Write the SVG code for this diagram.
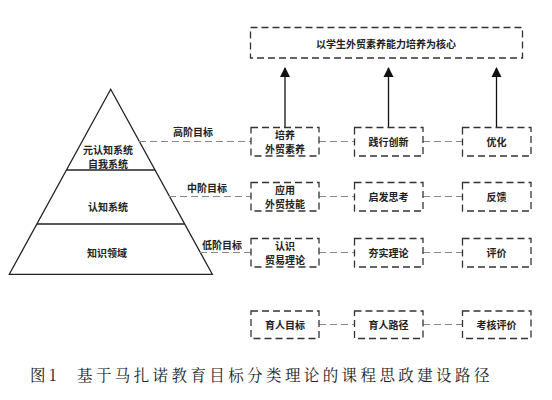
<svg xmlns="http://www.w3.org/2000/svg" width="552" height="400" viewBox="0 0 552 400">
<defs>
<style>
.t{font-family:"Noto Sans CJK SC","Liberation Sans",sans-serif;font-size:10px;font-weight:bold;fill:#222;text-anchor:middle;dominant-baseline:central}
.box{fill:none;stroke:#333;stroke-width:1.3;stroke-dasharray:7 4}
.con{fill:none;stroke:#888;stroke-width:1.1;stroke-dasharray:7 4}
.pyr{fill:none;stroke:#222;stroke-width:1.3}
.arr{stroke:#111;stroke-width:1.3;marker-end:url(#ah)}
.cap{font-family:"Noto Serif CJK SC","Noto Sans CJK SC",serif;font-size:15.5px;fill:#222;letter-spacing:3.4px}
</style>
<marker id="ah" viewBox="0 0 10 14" refX="9" refY="7" markerWidth="10" markerHeight="14" markerUnits="userSpaceOnUse" orient="auto">
<path d="M0,2 L10,7 L0,12 Z" fill="#111"/>
</marker>
</defs>
<rect width="552" height="400" fill="#fff"/>

<g id="pyramid">
<path class="pyr" d="M110.7,89.3 L212.3,274.3 L9.3,274.3 Z"/>
<line class="pyr" x1="66.5" y1="170" x2="154.9" y2="170"/>
<line class="pyr" x1="37" y1="224" x2="184.4" y2="224"/>
<text class="t" x="108" y="149.5">元认知系统</text>
<text class="t" x="108" y="163">自我系统</text>
<text class="t" x="108" y="206">认知系统</text>
<text class="t" x="107" y="252">知识领域</text>
</g>

<g id="connectors">
<line class="con" x1="139" y1="141.5" x2="251" y2="141.5"/>
<line class="con" x1="169" y1="196.5" x2="251" y2="196.5"/>
<line class="con" x1="200" y1="252.5" x2="251" y2="252.5"/>
<line class="con" x1="319" y1="141.5" x2="354" y2="141.5"/>
<line class="con" x1="423" y1="141.5" x2="462" y2="141.5"/>
<line class="con" x1="319" y1="196.5" x2="354" y2="196.5"/>
<line class="con" x1="423" y1="196.5" x2="462" y2="196.5"/>
<line class="con" x1="319" y1="252.5" x2="354" y2="252.5"/>
<line class="con" x1="423" y1="252.5" x2="462" y2="252.5"/>
<line class="con" x1="319" y1="324.5" x2="354" y2="324.5"/>
<line class="con" x1="423" y1="324.5" x2="462" y2="324.5"/>
<line class="arr" x1="285" y1="127" x2="285" y2="68"/>
<line class="arr" x1="388.5" y1="127" x2="388.5" y2="68"/>
<line class="arr" x1="496.5" y1="127" x2="496.5" y2="68"/>
</g>

<g id="labels">
<text class="t" x="193" y="131.5">高阶目标</text>
<text class="t" x="207" y="187.5">中阶目标</text>
<text class="t" x="222" y="244">低阶目标</text>
</g>

<g id="core"><rect class="box" x="250.5" y="27.5" width="272" height="30.5"/><text class="t" x="386" y="43">以学生外贸素养能力培养为核心</text></g>

<g id="n11"><rect class="box" x="251" y="127.5" width="68" height="28.5"/><text class="t" x="285" y="134.5">培养</text><text class="t" x="285" y="148">外贸素养</text></g>
<g id="n12"><rect class="box" x="354.5" y="127.5" width="68.5" height="28.5"/><text class="t" x="388.5" y="141.5">践行创新</text></g>
<g id="n13"><rect class="box" x="462.5" y="127.5" width="68.5" height="28.5"/><text class="t" x="496.5" y="141.5">优化</text></g>

<g id="n21"><rect class="box" x="251" y="182.5" width="68" height="28.5"/><text class="t" x="285" y="189">应用</text><text class="t" x="285" y="203">外贸技能</text></g>
<g id="n22"><rect class="box" x="354.5" y="182.5" width="68.5" height="28.5"/><text class="t" x="388.5" y="196.5">启发思考</text></g>
<g id="n23"><rect class="box" x="462.5" y="182.5" width="68.5" height="28.5"/><text class="t" x="496.5" y="196.5">反馈</text></g>

<g id="n31"><rect class="box" x="251" y="238.5" width="68" height="28.5"/><text class="t" x="285" y="245">认识</text><text class="t" x="285" y="259">贸易理论</text></g>
<g id="n32"><rect class="box" x="354.5" y="238.5" width="68.5" height="28.5"/><text class="t" x="388.5" y="252.5">夯实理论</text></g>
<g id="n33"><rect class="box" x="462.5" y="238.5" width="68.5" height="28.5"/><text class="t" x="496.5" y="252.5">评价</text></g>

<g id="n41"><rect class="box" x="251" y="311" width="68" height="27.5"/><text class="t" x="285" y="324.5">育人目标</text></g>
<g id="n42"><rect class="box" x="354.5" y="311" width="68.5" height="27.5"/><text class="t" x="388.5" y="324.5">育人路径</text></g>
<g id="n43"><rect class="box" x="462.5" y="311" width="68.5" height="27.5"/><text class="t" x="496.5" y="324.5">考核评价</text></g>

<g id="caption">
<text class="cap" x="30" y="381">图1</text>
<text class="cap" x="77" y="381">基于马扎诺教育目标分类理论的课程思政建设路径</text>
</g>
</svg>
